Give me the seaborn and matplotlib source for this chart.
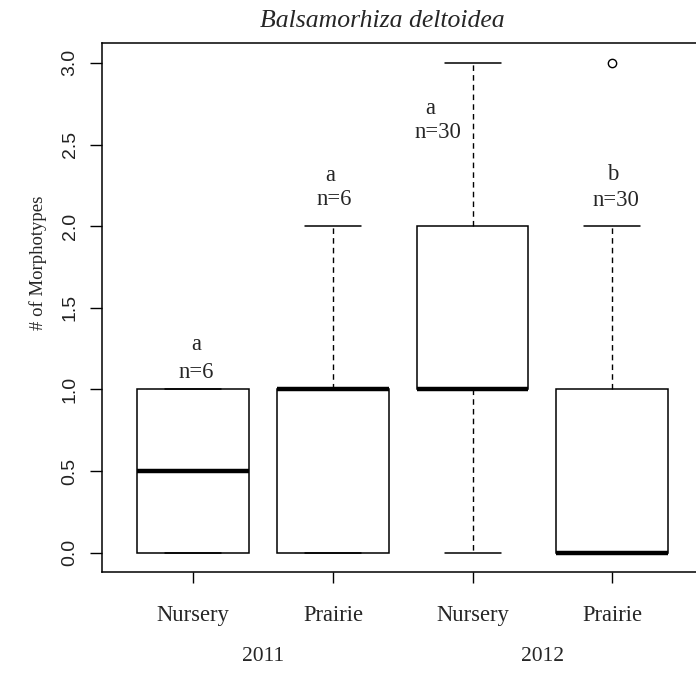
import matplotlib

matplotlib.use("Agg")
import matplotlib.pyplot as plt
import matplotlib.transforms as mtransforms
import numpy as np
import pandas as pd
import seaborn as sns

# number of morphotypes observed per plant, as counts of plants at 0/1/2/3
morphotype_values = [0, 1, 2, 3]
groups = ["2011 Nursery", "2011 Prairie", "2012 Nursery", "2012 Prairie"]
counts_2011_nursery = [3, 3, 0, 0]
counts_2011_prairie = [3, 3, 1, 0]
counts_2012_nursery = [2, 16, 10, 2]
counts_2012_prairie = [16, 10, 3, 1]

site_labels = ["Nursery", "Prairie", "Nursery", "Prairie"]
year_labels = ["2011", "2012"]
letters = ["a", "a", "a", "b"]
n_labels = ["n=6", "n=6", "n=30", "n=30"]

SERIF = "Liberation Serif"
SANS = "Liberation Sans"

sns.set_theme(style="ticks")
plt.rcParams["font.family"] = [SERIF, "DejaVu Serif"]

all_counts = [counts_2011_nursery, counts_2011_prairie, counts_2012_nursery, counts_2012_prairie]
df = pd.concat(
    [pd.DataFrame({"group": g, "morphotypes": np.repeat(morphotype_values, c)})
     for g, c in zip(groups, all_counts)],
    ignore_index=True,
)

fig = plt.figure(figsize=(6.96, 6.73), dpi=100)
ax = fig.add_axes([0.1461, 0.1496, 0.8539, 0.7861])

sns.boxplot(
    data=df, x="group", y="morphotypes", order=groups, ax=ax,
    color="white", linecolor="black", linewidth=1.1, width=0.8, whis=1.5,
    medianprops=dict(color="black", linewidth=3.2, solid_capstyle="butt"),
    whiskerprops=dict(color="black", linewidth=1.0, linestyle=(0, (4, 3))),
    capprops=dict(color="black", linewidth=1.1),
    flierprops=dict(marker="o", markersize=6, markerfacecolor="none",
                    markeredgecolor="black", markeredgewidth=1.0),
)

ax.set_xlim(-0.656, 3.6)
ax.set_ylim(-0.12, 3.12)
ax.set_yticks(np.arange(0, 3.01, 0.5))
ax.set_yticklabels([f"{v:.1f}" for v in np.arange(0, 3.01, 0.5)],
                   rotation=90, va="center", family=SANS, fontsize=14, color="#222222")
ax.set_xticks(range(len(groups)))
ax.set_xticklabels(site_labels, fontsize=16.3, family=SERIF)
ax.tick_params(axis="y", length=8.6, width=1.0, pad=8, color="black")
ax.tick_params(axis="x", length=8, width=1.0, pad=15.5, color="black")
ax.set_xlabel("")
ax.set_ylabel("")

for side in ["left", "top", "bottom"]:
    ax.spines[side].set_color("black")
    ax.spines[side].set_linewidth(1.1)
ax.spines["right"].set_visible(False)

# significance letters and sample sizes
letter_x = [0.02, 0.98, 1.70, 3.00]
letter_y = [1.278, 2.311, 2.723, 2.317]
n_x = [0.02, 1.01, 1.75, 3.03]
n_y = [1.106, 2.163, 2.575, 2.157]
for i in range(len(groups)):
    ax.text(letter_x[i], letter_y[i], letters[i], ha="center", va="center", fontsize=16.3)
    ax.text(n_x[i], n_y[i], n_labels[i], ha="center", va="center", fontsize=16.3)

# year labels under pairs
trans = mtransforms.blended_transform_factory(ax.transData, ax.transAxes)
for xpos, yr in zip([0.5, 2.5], year_labels):
    ax.text(xpos, -0.160, yr, transform=trans, ha="center", va="center", fontsize=15.5)

ax.text(-0.107, 0.585, "# of Morphotypes", transform=ax.transAxes, rotation=90,
        ha="center", va="center", fontsize=13.5)
ax.text(0.473, 1.043, "Balsamorhiza deltoidea", transform=ax.transAxes,
        ha="center", va="center", fontsize=18.5, style="italic")

fig.savefig("out.png", dpi=100)
